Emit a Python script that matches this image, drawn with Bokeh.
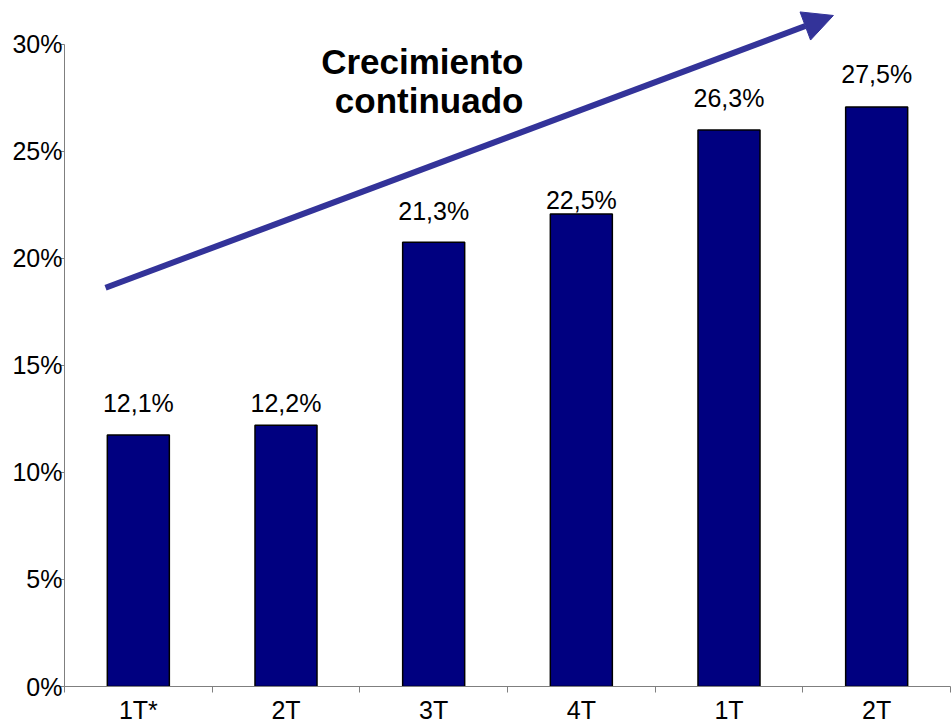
from bokeh.plotting import figure
from bokeh.models import ColumnDataSource, Range1d, FixedTicker, Arrow, NormalHead, Label
from bokeh.core.properties import value
from bokeh.embed import file_html
from bokeh.resources import INLINE

# ---- data ----
categories = ["1T*", "2T", "3T", "4T", "1T", "2T"]
bar_values = [11.75, 12.2, 20.76, 22.08, 26.0, 27.08]
value_labels = ["12,1%", "12,2%", "21,3%", "22,5%", "26,3%", "27,5%"]
y_ticks = [0, 5, 10, 15, 20, 25, 30]
y_tick_labels = ["0%", "5%", "10%", "15%", "20%", "25%", "30%"]
title_lines = ["Crecimiento", "continuado"]

# ---- layout helpers ----
x_pos = [i + 0.5 for i in range(len(categories))]
label_offsets = [-31.7, -22, -31, -14.3, -31.7, -32.7]
FONT = "Liberation Sans"

src = ColumnDataSource(dict(x=x_pos, top=bar_values, lab=value_labels, off=label_offsets))

p = figure(width=952, height=726, x_range=Range1d(0, 6), y_range=Range1d(0, 32.05),
           output_backend="svg", toolbar_location=None,
           min_border_left=64, min_border_right=2, min_border_top=0, min_border_bottom=38)
p.xgrid.visible = False
p.ygrid.visible = False
p.outline_line_color = None
p.background_fill_color = "white"
p.border_fill_color = "white"

p.vbar(x="x", top="top", width=0.42, source=src, fill_color="#000080",
       line_color="black", line_width=1.5)

p.text(x="x", y="top", text="lab", y_offset="off", source=src, text_align="center",
       text_baseline="alphabetic", text_font=value(FONT), text_font_size="25px",
       text_color="black")

# axes
xa = p.xaxis[0]
xa.ticker = FixedTicker(ticks=x_pos, minor_ticks=list(range(len(categories) + 1)))
xa.major_label_overrides = {xv: c for xv, c in zip(x_pos, categories)}
xa.major_tick_out = 0
xa.major_tick_in = 0
xa.minor_tick_out = 6
xa.minor_tick_in = 0
xa.bounds = (0, 6)
xa.axis_line_color = "#7f7f7f"
xa.minor_tick_line_color = "#7f7f7f"
xa.major_label_text_font = FONT
xa.major_label_text_font_size = "25px"
xa.major_label_text_color = "black"
xa.major_label_standoff = 3

ya = p.yaxis[0]
ya.ticker = FixedTicker(ticks=y_ticks, minor_ticks=[])
ya.major_label_overrides = {t: l for t, l in zip(y_ticks, y_tick_labels)}
ya.major_tick_out = 4
ya.major_tick_in = 0
ya.bounds = (0, 30)
ya.axis_line_color = "#7f7f7f"
ya.major_tick_line_color = "#7f7f7f"
ya.major_label_text_font = FONT
ya.major_label_text_font_size = "25px"
ya.major_label_text_color = "black"
ya.major_label_standoff = -2

# decorative arrow
p.add_layout(Arrow(x_start=0.278, y_start=18.63, x_end=5.207, y_end=31.35,
                   line_color="#333399", line_width=6,
                   end=NormalHead(size=30, fill_color="#333399", line_color="#333399")))

for txt, yy in zip(title_lines, [29.22, 27.36]):
    p.add_layout(Label(x=3.108, y=yy, text=txt, text_align="right", text_baseline="alphabetic",
                       text_font=FONT, text_font_size="35px", text_font_style="bold",
                       text_color="black"))

open("out.html", "w").write(file_html(p, INLINE))
